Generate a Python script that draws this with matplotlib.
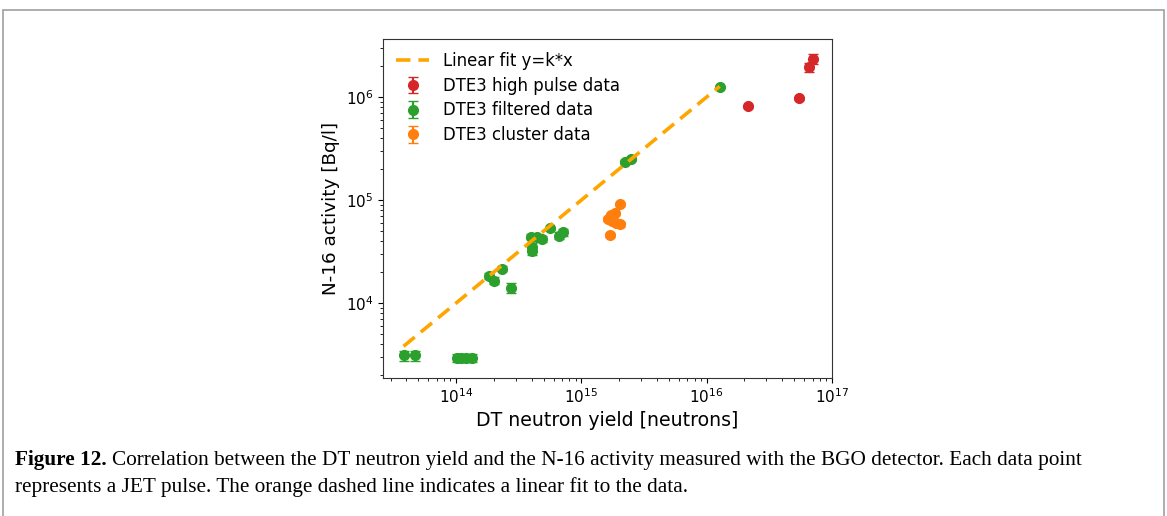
import numpy as np
import matplotlib.pyplot as plt
from matplotlib.patches import Rectangle

# DTE3 high pulse data
high_yield = [2.15e16, 5.5e16, 6.5e16, 7.1e16]
high_act = [8.1e5, 9.7e5, 1.95e6, 2.35e6]
high_err = [0.3e5, 0.3e5, 2.0e5, 2.5e5]

# DTE3 filtered data
filt_yield = [3.85e13, 4.65e13, 1.02e14, 1.1e14, 1.2e14, 1.35e14,
              1.84e14, 1.99e14, 2.32e14, 2.73e14, 3.95e14, 4.03e14,
              4.05e14, 4.4e14, 4.85e14, 5.65e14, 6.6e14, 7.1e14,
              2.21e15, 2.47e15, 1.27e16]
filt_act = [3.1e3, 3.1e3, 2.95e3, 2.95e3, 2.95e3, 2.95e3,
            1.83e4, 1.65e4, 2.15e4, 1.4e4, 4.4e4, 3.5e4,
            3.2e4, 4.35e4, 4.2e4, 5.3e4, 4.5e4, 4.85e4,
            2.35e5, 2.5e5, 1.26e6]
filt_err = [3.6e2, 3.6e2, 2.8e2, 2.8e2, 2.8e2, 2.8e2,
            1.2e3, 1.2e3, 1.2e3, 1.6e3, 2.5e3, 3.0e3,
            3.0e3, 2.5e3, 2.5e3, 2.0e3, 3.5e3, 3.5e3,
            1.2e4, 1.0e4, 3.0e4]

# DTE3 cluster data
clus_yield = [2.03e15, 1.71e15, 1.87e15, 1.62e15, 1.76e15, 1.9e15, 2.03e15, 1.68e15]
clus_act = [9.1e4, 7.1e4, 7.4e4, 6.6e4, 6.3e4, 6.0e4, 5.8e4, 4.6e4]
clus_err = [3.0e3, 3.0e3, 3.0e3, 3.0e3, 3.0e3, 3.0e3, 3.0e3, 2.0e3]

# linear fit y = k*x
k_fit = 1.0e-10
fit_x = np.array([3.8e13, 1.27e16])

fig = plt.figure(figsize=(11.67, 5.16), dpi=100)
ax = fig.add_axes([0.3282, 0.2674, 0.3847, 0.657])

ax.plot(fit_x, k_fit * fit_x, '--', color='orange', lw=2.6, dashes=(4, 2.2),
        label='Linear fit y=k*x', zorder=3)
ax.errorbar(high_yield, high_act, yerr=high_err, fmt='o', color='tab:red',
            ms=7, capsize=3.5, label='DTE3 high pulse data')
ax.errorbar(filt_yield, filt_act, yerr=filt_err, fmt='o', color='tab:green',
            ms=7, capsize=3.5, label='DTE3 filtered data')
ax.errorbar(clus_yield, clus_act, yerr=clus_err, fmt='o', color='tab:orange',
            ms=7, capsize=3.5, label='DTE3 cluster data')

ax.set_xscale('log')
ax.set_yscale('log')
ax.set_xlim(10**13.416, 1e17)
ax.set_ylim(10**3.272, 10**6.563)
ax.set_xlabel('DT neutron yield [neutrons]', fontsize=13.6, labelpad=3)
ax.set_ylabel('N-16 activity [Bq/l]', fontsize=13.2, labelpad=4)
ax.tick_params(labelsize=11)
for s in ax.spines.values():
    s.set_color('#333333')
ax.legend(loc='upper left', frameon=False, fontsize=11.9, handlelength=2.0,
          borderaxespad=0.4, labelspacing=0.4)

# page frame and caption
fig.patches.append(Rectangle((3 / 1167, -0.05), 1161 / 1167, 1 - 10 / 516 + 0.05,
                             transform=fig.transFigure, fill=False,
                             edgecolor='#a0a0a0', lw=1.2))
cap_font = dict(family='Liberation Serif', fontsize=15.3, va='baseline')
y1 = 1 - 465 / 516
t = fig.text(15 / 1167, y1, 'Figure 12.', fontweight='bold', **cap_font)
fig.canvas.draw()
bb = t.get_window_extent()
fig.text((bb.x1 + 5) / fig.bbox.width, y1,
         'Correlation between the DT neutron yield and the N-16 activity measured '
         'with the BGO detector. Each data point', **cap_font)
fig.text(15 / 1167, 1 - 492 / 516,
         'represents a JET pulse. The orange dashed line indicates a linear fit to the data.',
         **cap_font)

fig.savefig('out.png', dpi=100)
